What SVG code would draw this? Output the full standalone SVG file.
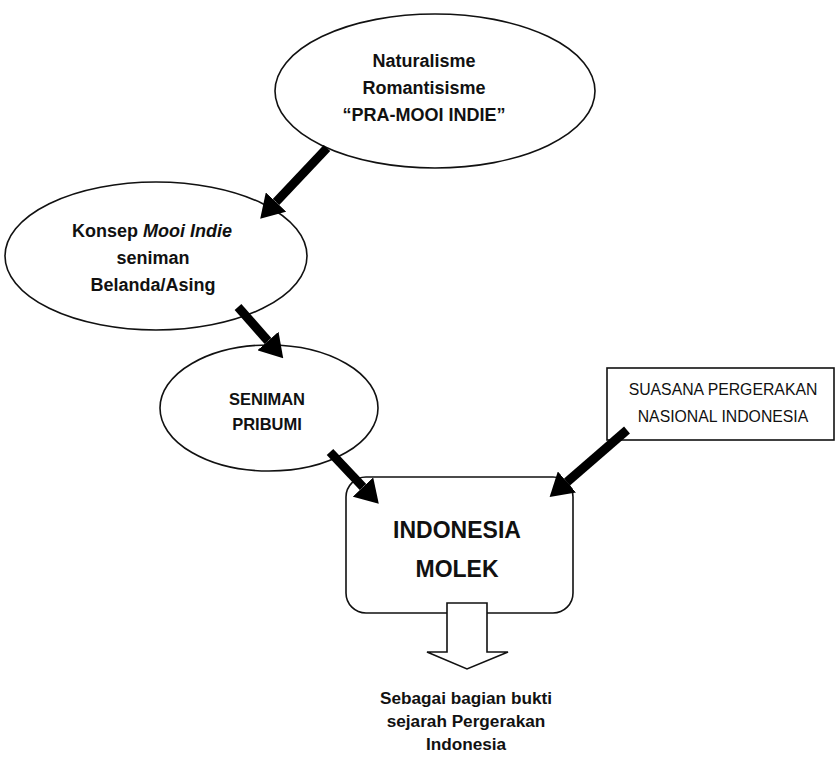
<svg xmlns="http://www.w3.org/2000/svg" width="836" height="761" viewBox="0 0 836 761">
<style>
.shape{fill:#fff;stroke:#111;stroke-width:1.6}
.t{font-family:"Liberation Sans",Arial,sans-serif;font-weight:bold;fill:#111;text-anchor:middle}
.r{font-family:"Liberation Sans",Arial,sans-serif;fill:#111;text-anchor:middle}
.shaft{stroke:#000;stroke-width:9;fill:none;marker-end:url(#head)}
</style>
<defs>
<marker id="head" viewBox="0 -14 23 28" refX="0" refY="0" markerWidth="23" markerHeight="28" markerUnits="userSpaceOnUse" orient="auto">
<path d="M0,-14 L23,0 L0,14 z" fill="#000"/>
</marker>
</defs>
<rect width="836" height="761" fill="#fff"/>
<g id="node-naturalisme">
<ellipse class="shape" cx="435" cy="91" rx="160" ry="77"/>
<text class="t" x="424" y="67" font-size="18">Naturalisme</text>
<text class="t" x="424" y="94" font-size="18">Romantisisme</text>
<text class="t" x="424" y="121" font-size="18">“PRA-MOOI INDIE”</text>
</g>
<g id="node-mooi-indie">
<ellipse class="shape" cx="156" cy="256" rx="151" ry="74"/>
<text class="t" x="152" y="237" font-size="18">Konsep <tspan font-style="italic">Mooi Indie</tspan></text>
<text class="t" x="153" y="264" font-size="18">seniman</text>
<text class="t" x="153" y="291" font-size="18">Belanda/Asing</text>
</g>
<g id="node-seniman-pribumi">
<ellipse class="shape" cx="269" cy="408" rx="109" ry="63"/>
<text class="t" x="267" y="405" font-size="16.5">SENIMAN</text>
<text class="t" x="267" y="430" font-size="16.5">PRIBUMI</text>
</g>
<g id="node-suasana">
<rect class="shape" x="607" y="368" width="227" height="72"/>
<text class="r" x="723" y="395" font-size="15.8">SUASANA PERGERAKAN</text>
<text class="r" x="723" y="422" font-size="15.8">NASIONAL INDONESIA</text>
</g>
<g id="node-indonesia-molek">
<rect class="shape" x="346" y="477" width="227" height="136" rx="20" ry="20"/>
<text class="t" x="457" y="538" font-size="23">INDONESIA</text>
<text class="t" x="457" y="577" font-size="23">MOLEK</text>
</g>
<g id="node-sebagai">
<text class="t" x="466" y="704" font-size="17.2">Sebagai bagian bukti</text>
<text class="t" x="466" y="727" font-size="17.2">sejarah Pergerakan</text>
<text class="t" x="466" y="750" font-size="17.2">Indonesia</text>
</g>
<g id="connectors">
<line class="shaft" x1="327" y1="148" x2="276" y2="202"/>
<line class="shaft" x1="238" y1="307" x2="268" y2="341"/>
<line class="shaft" x1="330" y1="452" x2="363" y2="487"/>
<line class="shaft" x1="627" y1="430" x2="567" y2="482"/>
<polygon class="shape" points="447,603 487,603 487,652 508,652 467,669 427,652 447,652"/>
</g>
</svg>
